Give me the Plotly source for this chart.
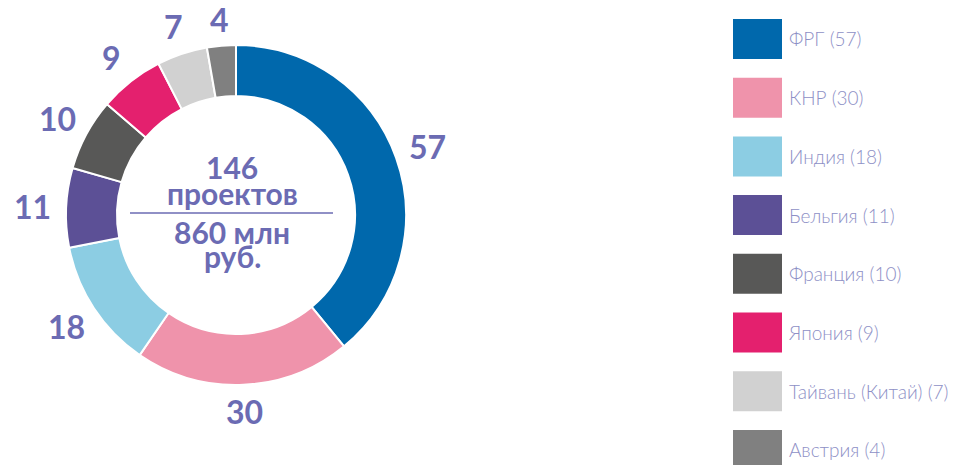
import math
import plotly.graph_objects as go

countries = ["ФРГ", "КНР", "Индия", "Бельгия", "Франция", "Япония", "Тайвань (Китай)", "Австрия"]
projects = [57, 30, 18, 11, 10, 9, 7, 4]
colors = ["#0068ac", "#ef93ab", "#8ccde3", "#5c5096", "#585857", "#e4206e", "#d1d1d1", "#808080"]

total_projects = sum(projects)
center_lines = [str(total_projects), "проектов", "860 млн", "руб."]

W, H = 960, 465
label_color = "#6b6bb3"
legend_text_color = "#8e90c6"

fig = go.Figure()

# donut geometry in pixels
cx, cy, r = 236, 215, 170
fig.add_trace(go.Pie(
    values=projects,
    labels=countries,
    marker=dict(colors=colors, line=dict(color="white", width=2)),
    hole=0.7,
    sort=False,
    direction="clockwise",
    rotation=0,
    textinfo="none",
    showlegend=False,
    hoverinfo="label+value",
    domain=dict(x=[(cx - r) / W, (cx + r) / W], y=[1 - (cy + r) / H, 1 - (cy - r) / H]),
))


def px(x, y):
    return x / W, 1 - y / H


# value labels placed outside each slice at its mid-angle
cum = 0
for v in projects:
    frac = (cum + v / 2) / total_projects
    cum += v
    ang = 2 * math.pi * frac  # clockwise from 12 o'clock
    sx, sy = math.sin(ang), -math.cos(ang)
    dist = 196 + 8 * abs(sx)
    ax, ay = px(cx + dist * sx, cy + dist * sy)
    fig.add_annotation(x=ax, y=ay, xref="paper", yref="paper", text=str(v),
                       showarrow=False, xanchor="center", yanchor="middle",
                       font=dict(family="Lato", size=32, color=label_color, weight="bold"))

# centre caption
center_y = [167, 193, 232, 256]
for txt, yy in zip(center_lines, center_y):
    ax, ay = px(232, yy)
    fig.add_annotation(x=ax, y=ay, xref="paper", yref="paper", text=txt,
                       showarrow=False, xanchor="center", yanchor="middle",
                       font=dict(family="Lato", size=30, color=label_color, weight="bold"))
lx0, ly = px(130, 213)
lx1, _ = px(333, 213)
fig.add_shape(type="line", xref="paper", yref="paper", x0=lx0, x1=lx1, y0=ly, y1=ly,
              line=dict(color=label_color, width=1.5))

# legend: swatches with country names
sw_x0, sw_x1 = 733, 782
row_top, row_step, sw_h = 19, 58.7, 40
for i, (name, val, col) in enumerate(zip(countries, projects, colors)):
    y0 = row_top + i * row_step
    fig.add_shape(type="rect", xref="paper", yref="paper",
                  x0=sw_x0 / W, x1=sw_x1 / W, y0=1 - (y0 + sw_h) / H, y1=1 - y0 / H,
                  fillcolor=col, line=dict(width=0))
    tx, ty = px(sw_x1 + 5, y0 + sw_h / 2)
    fig.add_annotation(x=tx, y=ty, xref="paper", yref="paper",
                       text=f"{name} ({val})", showarrow=False, xanchor="left", yanchor="middle",
                       font=dict(family="Lato", size=19, color=legend_text_color, weight=300))

fig.update_layout(
    width=W, height=H,
    margin=dict(l=0, r=0, t=0, b=0, autoexpand=False),
    paper_bgcolor="white", plot_bgcolor="white",
)

fig.write_html("out.html")
